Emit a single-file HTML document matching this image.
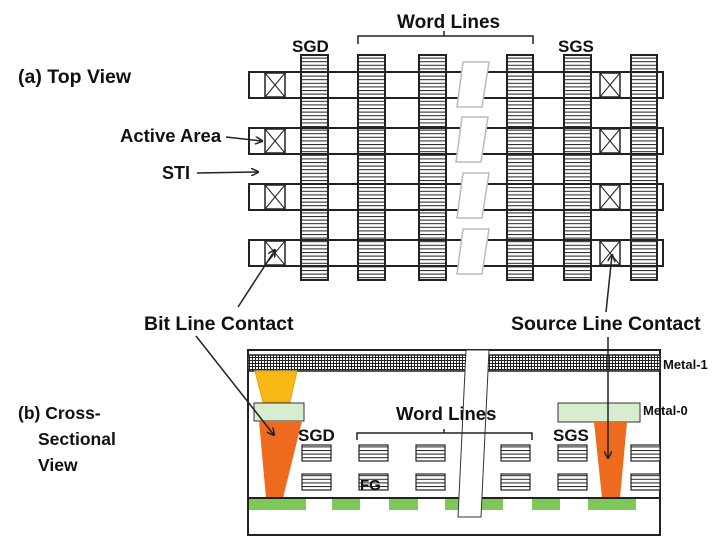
<!DOCTYPE html>
<html><head><meta charset="utf-8"><style>
html,body{margin:0;padding:0;background:#fff}
svg{display:block}
text{font-family:"Liberation Sans",Arial,sans-serif;font-weight:bold;fill:#111}
</style></head><body>
<svg width="720" height="538" viewBox="0 0 720 538" xmlns="http://www.w3.org/2000/svg">
<defs>
<pattern id="hz" width="8" height="3.6" patternUnits="userSpaceOnUse"><rect width="8" height="3.6" fill="#fff"/><line x1="0" y1="0.5" x2="8" y2="0.5" stroke="#222" stroke-width="1"/></pattern>
<pattern id="grid" width="3" height="3" patternUnits="userSpaceOnUse"><rect width="3" height="3" fill="#fff"/><path d="M0 0.5H3M0.5 0V3" stroke="#222" stroke-width="1"/></pattern>
<marker id="ah" markerWidth="8" markerHeight="8" refX="7" refY="4" orient="auto" markerUnits="userSpaceOnUse"><path d="M0 0L8 4L0 8" fill="none" stroke="#222" stroke-width="1.5"/></marker>
</defs>

<!-- Top view -->
<g stroke="#222" stroke-width="2" fill="none">
<rect x="249" y="72" width="414" height="26"/>
<rect x="249" y="128" width="414" height="26"/>
<rect x="249" y="184" width="414" height="26"/>
<rect x="249" y="240" width="414" height="26"/>
</g>
<g fill="#fff" stroke="#bbb" stroke-width="1.5">
<polygon points="463,62 489,62 482,107 457,107"/>
<polygon points="462,117 488,117 481,162 456,162"/>
<polygon points="463,173 489,173 482,218 457,218"/>
<polygon points="463,229 489,229 482,274 457,274"/>
</g>
<g stroke="#222" stroke-width="1.5" fill="#fff">
<g id="ct"><rect x="265" y="73" width="20" height="24"/><path d="M265 73L285 97M285 73L265 97" stroke-width="1"/></g>
<use href="#ct" y="56"/><use href="#ct" y="112"/><use href="#ct" y="168"/>
<use href="#ct" x="335"/><use href="#ct" x="335" y="56"/><use href="#ct" x="335" y="112"/><use href="#ct" x="335" y="168"/>
</g>
<g stroke="#222" stroke-width="2" fill="url(#hz)">
<rect x="301" y="55" width="27" height="225"/>
<rect x="358" y="55" width="27" height="225"/>
<rect x="419" y="55" width="27" height="225"/>
<rect x="507" y="55" width="26" height="225"/>
<rect x="564" y="55" width="27" height="225"/>
<rect x="631" y="55" width="26" height="225"/>
</g>
<g stroke="#222" stroke-width="2">
<path d="M301 72H328M358 72H385M419 72H446M507 72H533M564 72H591M631 72H657M301 98H328M358 98H385M419 98H446M507 98H533M564 98H591M631 98H657"/>
<path d="M301 128H328M358 128H385M419 128H446M507 128H533M564 128H591M631 128H657M301 154H328M358 154H385M419 154H446M507 154H533M564 154H591M631 154H657"/>
<path d="M301 184H328M358 184H385M419 184H446M507 184H533M564 184H591M631 184H657M301 210H328M358 210H385M419 210H446M507 210H533M564 210H591M631 210H657"/>
<path d="M301 240H328M358 240H385M419 240H446M507 240H533M564 240H591M631 240H657M301 266H328M358 266H385M419 266H446M507 266H533M564 266H591M631 266H657"/>
</g>
<text x="292" y="52" font-size="17">SGD</text>
<text x="397" y="28" font-size="19">Word Lines</text>
<path d="M358 44V36H444V31M444 36H533V44" stroke="#222" stroke-width="1.5" fill="none"/>
<text x="558" y="52" font-size="17">SGS</text>
<text x="18" y="83" font-size="19.5">(a) Top View</text>
<text x="120" y="142" font-size="18.5">Active Area</text>
<line x1="226" y1="137" x2="262" y2="141" stroke="#222" stroke-width="1.5" marker-end="url(#ah)"/>
<text x="162" y="179" font-size="18">STI</text>
<line x1="197" y1="173" x2="258" y2="172" stroke="#222" stroke-width="1.5" marker-end="url(#ah)"/>
<text x="144" y="330" font-size="19.5">Bit Line Contact</text>
<line x1="238" y1="307" x2="275" y2="250" stroke="#222" stroke-width="1.5" marker-end="url(#ah)"/>
<text x="511" y="330" font-size="19.5">Source Line Contact</text>
<line x1="606" y1="312" x2="612" y2="255" stroke="#222" stroke-width="1.5" marker-end="url(#ah)"/>

<!-- Cross section -->
<rect x="248" y="350" width="412" height="185" fill="#fff" stroke="#222" stroke-width="2"/>
<rect x="248" y="355" width="412" height="16" fill="url(#grid)" stroke="#222" stroke-width="1.5"/>
<text x="663" y="369" font-size="13">Metal-1</text>
<polygon points="255,371 297,371 290,402 263,402" fill="#f8b818" stroke="#e8a010"/>
<rect x="254" y="403" width="50" height="18" fill="#d8ecd0" stroke="#333" stroke-width="1"/>
<rect x="558" y="403" width="82" height="19" fill="#d8ecd0" stroke="#333" stroke-width="1"/>
<text x="643" y="415" font-size="13">Metal-0</text>
<polygon points="259,421 302,421 283,498 266,498" fill="#ee6a1e"/>
<polygon points="594,422 627,422 620,498 602,498" fill="#ee6a1e"/>
<line x1="248" y1="498" x2="660" y2="498" stroke="#222" stroke-width="2"/>
<g fill="#7ec85a">
<rect x="249" y="499" width="57" height="11"/><rect x="332" y="499" width="28" height="11"/>
<rect x="389" y="499" width="29" height="11"/><rect x="445" y="499" width="58" height="11"/>
<rect x="532" y="499" width="28" height="11"/><rect x="588" y="499" width="48" height="11"/>
</g>
<g fill="url(#hz)" stroke="#222" stroke-width="1.2">
<rect x="302" y="445" width="29" height="16"/><rect x="359" y="445" width="29" height="16"/>
<rect x="416" y="445" width="29" height="16"/><rect x="501" y="445" width="29" height="16"/>
<rect x="558" y="445" width="29" height="16"/><rect x="631" y="445" width="29" height="16"/>
<rect x="302" y="474" width="29" height="16"/><rect x="359" y="474" width="29" height="16"/>
<rect x="416" y="474" width="29" height="16"/><rect x="501" y="474" width="29" height="16"/>
<rect x="558" y="474" width="29" height="16"/><rect x="631" y="474" width="29" height="16"/>
</g>
<polygon points="466,350 489,350 481,517 458,517" fill="#fff" stroke="#333" stroke-width="1"/>
<text x="396" y="420" font-size="18.5">Word Lines</text>
<path d="M357 440V433H444V429M444 433H532V440" stroke="#222" stroke-width="1.5" fill="none"/>
<text x="298" y="441" font-size="17">SGD</text>
<text x="553" y="441" font-size="17">SGS</text>
<text x="360" y="490" font-size="15">FG</text>
<text x="18" y="419" font-size="17.5">(b) Cross-</text>
<text x="38" y="445" font-size="17.5">Sectional</text>
<text x="38" y="471" font-size="17.5">View</text>
<line x1="196" y1="336" x2="274" y2="435" stroke="#222" stroke-width="1.5" marker-end="url(#ah)"/>
<line x1="608" y1="337" x2="608" y2="458" stroke="#222" stroke-width="1.5" marker-end="url(#ah)"/>
</svg>
</body></html>
